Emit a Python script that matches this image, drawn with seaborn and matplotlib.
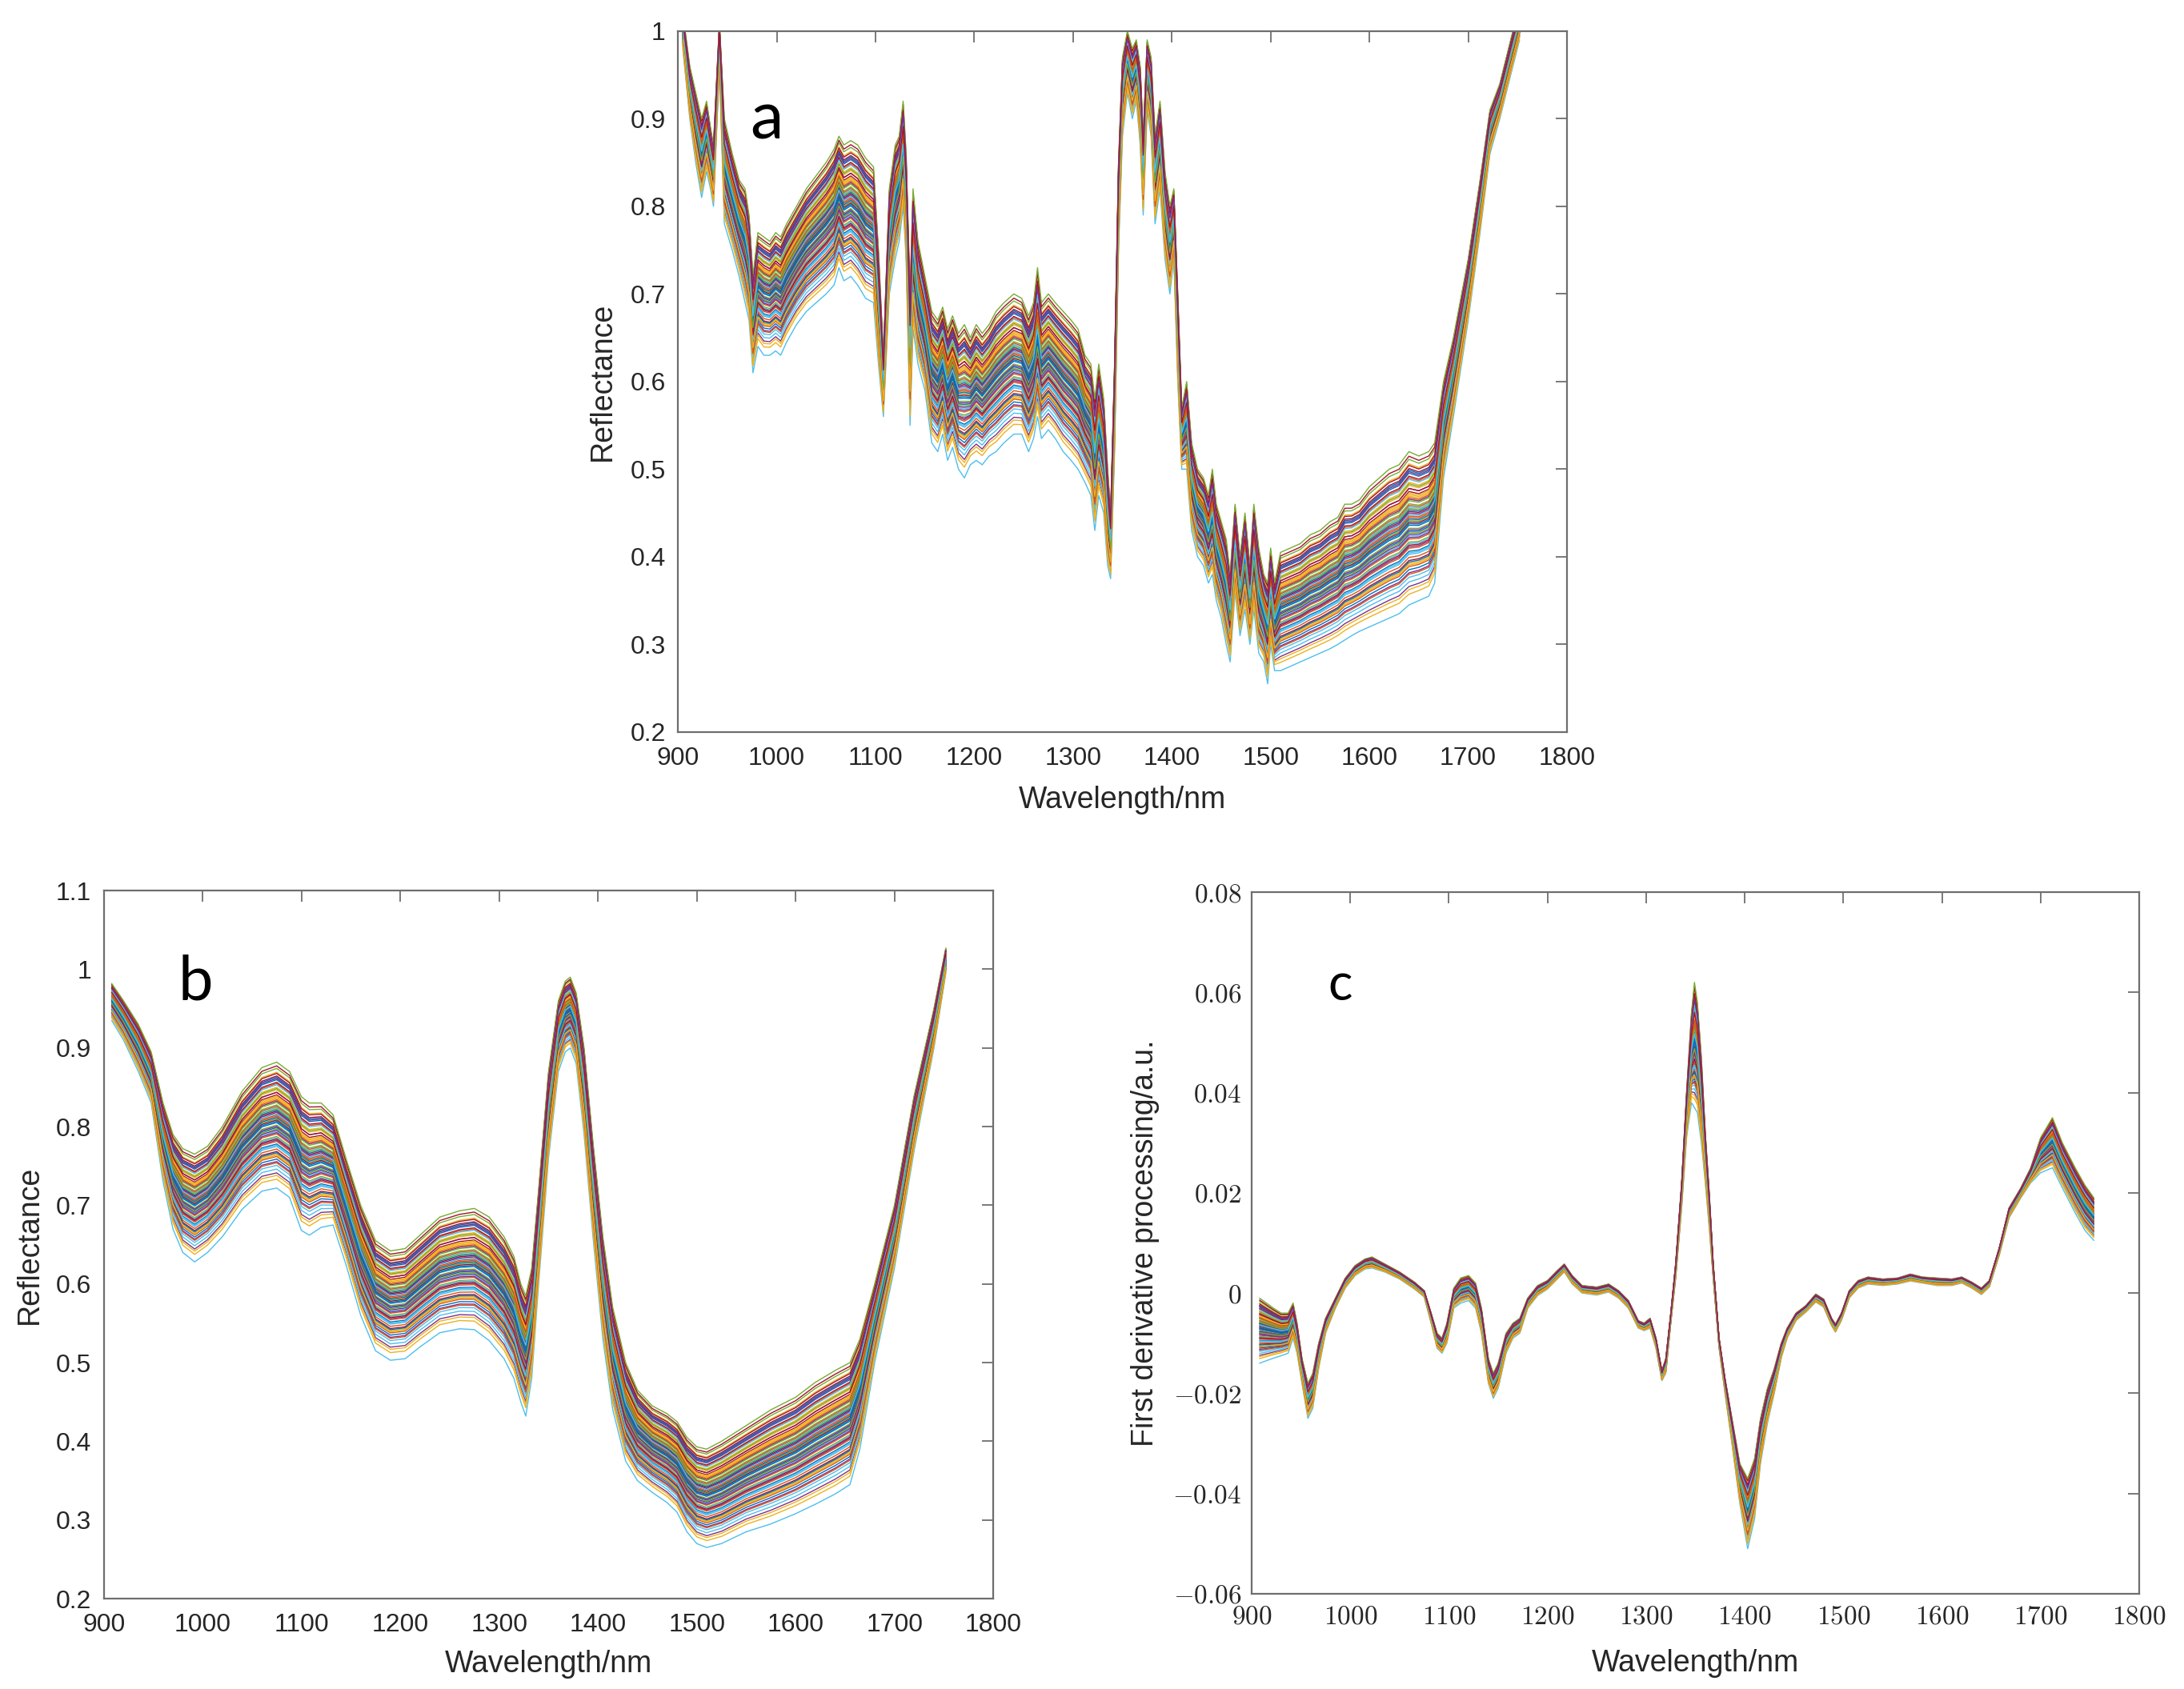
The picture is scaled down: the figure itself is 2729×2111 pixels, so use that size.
import numpy as np
import pandas as pd
import seaborn as sns
import matplotlib
matplotlib.use('Agg')
from matplotlib import pyplot as plt

# MATLAB default line colours, cycled over the samples
matlab_colors = ['#0072BD', '#D95319', '#EDB120', '#7E2F8E', '#77AC30', '#4DBEEE', '#A2142F']

# relative position of each sample inside the bundle (0 = lowest line, 1 = highest)
sample_pos = [0.52, 0.31, 0.78, 0.12, 0.66, 0.45, 0.89, 0.23, 0.57, 0.71,
              0.38, 0.95, 0.18, 0.61, 0.48, 0.83, 0.27, 0.69, 0.41, 0.00,
              0.74, 0.35, 0.58, 0.92, 0.21, 0.50, 0.64, 0.29, 0.86, 0.43,
              0.07, 0.76, 0.55, 0.33, 0.97, 0.62, 0.25, 0.80, 0.46, 0.68,
              0.15, 0.54, 0.88, 0.37, 0.72, 0.60, 1.00, 0.40, 0.84, 0.28,
              0.65, 0.10, 0.49, 0.79, 0.34, 0.91, 0.56, 0.20, 0.73, 0.44,
              0.63, 0.82, 0.39, 0.53, 0.70, 0.26, 0.87, 0.47, 0.59, 0.76]

# (a) raw spectra: wavelength, upper and lower edge of the bundle
wl_a = [905, 912, 918, 924, 929, 933, 936, 942, 947, 955,
        962, 968, 972, 976, 981, 987, 993, 999, 1004, 1010,
        1020, 1030, 1040, 1050, 1058, 1063, 1068, 1075, 1082, 1090,
        1098, 1103, 1108, 1114, 1120, 1124, 1128, 1131, 1135, 1138,
        1143, 1150, 1157, 1163, 1168, 1173, 1178, 1184, 1190, 1196,
        1202, 1208, 1215, 1222, 1230, 1240, 1248, 1255, 1260, 1264,
        1268, 1275, 1282, 1290, 1298, 1305, 1312, 1318, 1322, 1326,
        1331, 1335, 1338, 1342, 1346, 1350, 1355, 1360, 1364, 1368,
        1371, 1375, 1379, 1383, 1388, 1393, 1398, 1402, 1406, 1410,
        1415, 1420, 1426, 1432, 1437, 1441, 1445, 1450, 1455, 1459,
        1464, 1469, 1474, 1479, 1483, 1488, 1493, 1497, 1500, 1504,
        1510, 1520, 1530, 1540, 1550, 1560, 1568, 1575, 1582, 1590,
        1600, 1610, 1620, 1630, 1640, 1650, 1660, 1666, 1675, 1685,
        1700, 1712, 1722, 1732, 1743, 1752]
top_a = [1.02, 0.96, 0.93, 0.90, 0.92, 0.89, 0.87, 1.01, 0.90, 0.86,
         0.83, 0.82, 0.79, 0.72, 0.77, 0.765, 0.76, 0.77, 0.765, 0.78,
         0.80, 0.82, 0.835, 0.85, 0.865, 0.88, 0.87, 0.875, 0.87, 0.855,
         0.845, 0.75, 0.63, 0.82, 0.87, 0.88, 0.92, 0.86, 0.70, 0.82,
         0.76, 0.72, 0.68, 0.67, 0.685, 0.66, 0.675, 0.655, 0.665, 0.65,
         0.665, 0.655, 0.665, 0.68, 0.69, 0.70, 0.695, 0.675, 0.69, 0.73,
         0.69, 0.70, 0.69, 0.68, 0.67, 0.66, 0.63, 0.62, 0.58, 0.62,
         0.58, 0.50, 0.45, 0.62, 0.85, 0.97, 1.00, 0.98, 0.99, 0.96,
         0.88, 0.99, 0.97, 0.88, 0.92, 0.84, 0.80, 0.82, 0.70, 0.57,
         0.60, 0.53, 0.50, 0.49, 0.47, 0.50, 0.46, 0.44, 0.42, 0.38,
         0.46, 0.40, 0.45, 0.39, 0.46, 0.41, 0.38, 0.37, 0.41, 0.37,
         0.405, 0.41, 0.415, 0.425, 0.43, 0.44, 0.445, 0.46, 0.46, 0.465,
         0.48, 0.49, 0.50, 0.505, 0.52, 0.515, 0.52, 0.53, 0.60, 0.65,
         0.74, 0.83, 0.91, 0.94, 0.99, 1.03]
bot_a = [0.98, 0.90, 0.85, 0.81, 0.84, 0.82, 0.80, 0.96, 0.78, 0.75,
         0.72, 0.69, 0.67, 0.61, 0.64, 0.63, 0.63, 0.635, 0.63, 0.645,
         0.665, 0.68, 0.69, 0.70, 0.71, 0.73, 0.715, 0.72, 0.71, 0.695,
         0.69, 0.62, 0.56, 0.70, 0.74, 0.76, 0.80, 0.74, 0.55, 0.66,
         0.62, 0.59, 0.53, 0.52, 0.54, 0.51, 0.525, 0.50, 0.49, 0.505,
         0.51, 0.505, 0.515, 0.52, 0.53, 0.54, 0.54, 0.52, 0.535, 0.56,
         0.535, 0.545, 0.535, 0.52, 0.51, 0.50, 0.485, 0.47, 0.43, 0.47,
         0.45, 0.39, 0.375, 0.52, 0.75, 0.88, 0.93, 0.90, 0.92, 0.87,
         0.79, 0.91, 0.88, 0.78, 0.82, 0.74, 0.70, 0.74, 0.60, 0.50,
         0.50, 0.43, 0.40, 0.39, 0.37, 0.38, 0.35, 0.33, 0.30, 0.28,
         0.36, 0.31, 0.34, 0.30, 0.34, 0.29, 0.28, 0.255, 0.30, 0.27,
         0.27, 0.275, 0.28, 0.285, 0.29, 0.295, 0.30, 0.305, 0.31, 0.315,
         0.32, 0.325, 0.33, 0.335, 0.345, 0.35, 0.355, 0.37, 0.49, 0.56,
         0.67, 0.77, 0.86, 0.90, 0.95, 0.99]

# (b) smoothed spectra
wl_b = [908, 920, 935, 948, 960, 970, 980, 992, 1005, 1020,
        1040, 1060, 1075, 1088, 1100, 1108, 1120, 1132, 1145, 1160,
        1175, 1190, 1205, 1220, 1240, 1260, 1275, 1290, 1305, 1315,
        1322, 1327, 1333, 1340, 1350, 1360, 1367, 1372, 1378, 1386,
        1395, 1405, 1415, 1428, 1440, 1455, 1470, 1480, 1490, 1500,
        1510, 1525, 1550, 1575, 1600, 1620, 1640, 1655, 1665, 1680,
        1700, 1720, 1740, 1752]
top_b = [0.982, 0.96, 0.93, 0.895, 0.83, 0.79, 0.772, 0.765, 0.775, 0.80,
         0.845, 0.875, 0.882, 0.87, 0.838, 0.83, 0.83, 0.815, 0.76, 0.70,
         0.655, 0.642, 0.645, 0.662, 0.685, 0.693, 0.696, 0.685, 0.66, 0.635,
         0.60, 0.585, 0.62, 0.72, 0.87, 0.96, 0.985, 0.99, 0.97, 0.90,
         0.78, 0.66, 0.57, 0.50, 0.465, 0.445, 0.435, 0.425, 0.405, 0.393,
         0.39, 0.40, 0.42, 0.44, 0.456, 0.475, 0.49, 0.50, 0.53, 0.60,
         0.70, 0.84, 0.95, 1.027]
bot_b = [0.935, 0.91, 0.87, 0.83, 0.73, 0.67, 0.64, 0.628, 0.64, 0.66,
         0.695, 0.718, 0.722, 0.71, 0.668, 0.662, 0.672, 0.675, 0.625, 0.56,
         0.515, 0.503, 0.505, 0.52, 0.538, 0.543, 0.542, 0.528, 0.505, 0.48,
         0.45, 0.432, 0.48, 0.60, 0.76, 0.87, 0.895, 0.90, 0.88, 0.79,
         0.66, 0.53, 0.44, 0.375, 0.35, 0.335, 0.322, 0.31, 0.285, 0.27,
         0.265, 0.27, 0.285, 0.295, 0.308, 0.32, 0.333, 0.345, 0.39, 0.50,
         0.62, 0.77, 0.90, 0.995]

# (c) first derivative
wl_c = [908, 915, 922, 930, 937, 942, 946, 951, 957, 962,
        968, 975, 985, 995, 1005, 1015, 1022, 1035, 1050, 1065,
        1075, 1082, 1088, 1093, 1098, 1105, 1112, 1120, 1127, 1133,
        1140, 1145, 1150, 1158, 1165, 1172, 1180, 1190, 1200, 1210,
        1217, 1225, 1235, 1250, 1262, 1272, 1282, 1292, 1298, 1304,
        1310, 1316, 1320, 1325, 1330, 1336, 1341, 1346, 1349, 1352,
        1356, 1360, 1364, 1368, 1374, 1380, 1387, 1395, 1403, 1410,
        1416, 1423, 1430, 1437, 1443, 1452, 1462, 1472, 1480, 1488,
        1492, 1498, 1506, 1515, 1525, 1540, 1555, 1568, 1580, 1595,
        1610, 1620, 1630, 1640, 1648, 1658, 1668, 1680, 1690, 1700,
        1712, 1722, 1735, 1745, 1754]
top_c = [-0.001, -0.002, -0.003, -0.004, -0.004, -0.002, -0.006, -0.013, -0.018, -0.016,
         -0.010, -0.005, -0.001, 0.003, 0.0055, 0.0068, 0.0072, 0.0058, 0.0042, 0.0022,
         0.0005, -0.004, -0.008, -0.009, -0.006, 0.001, 0.003, 0.0035, 0.002, -0.003,
         -0.013, -0.016, -0.014, -0.008, -0.006, -0.005, -0.001, 0.0015, 0.0025, 0.0045,
         0.0058, 0.0035, 0.0015, 0.0012, 0.0018, 0.0005, -0.0015, -0.0055, -0.006, -0.005,
         -0.009, -0.0155, -0.013, -0.004, 0.006, 0.022, 0.040, 0.056, 0.062, 0.058,
         0.047, 0.032, 0.020, 0.006, -0.009, -0.017, -0.025, -0.034, -0.037, -0.033,
         -0.025, -0.019, -0.015, -0.010, -0.007, -0.004, -0.0025, -0.0002, -0.0012, -0.005,
         -0.0062, -0.004, 0.0005, 0.0025, 0.0032, 0.0028, 0.003, 0.0038, 0.0032, 0.003,
         0.0028, 0.0032, 0.0022, 0.001, 0.0025, 0.009, 0.017, 0.021, 0.025, 0.031,
         0.035, 0.030, 0.025, 0.0215, 0.019]
bot_c = [-0.014, -0.0135, -0.013, -0.0125, -0.012, -0.009, -0.012, -0.018, -0.025, -0.023,
         -0.015, -0.008, -0.003, 0.001, 0.0035, 0.0048, 0.005, 0.0042, 0.0028, 0.0008,
         -0.0008, -0.006, -0.011, -0.012, -0.010, -0.003, -0.002, -0.0015, -0.003, -0.008,
         -0.018, -0.021, -0.019, -0.012, -0.009, -0.008, -0.003, -0.0005, 0.0008, 0.0028,
         0.0042, 0.0018, 0.0, -0.0004, 0.0002, -0.001, -0.003, -0.007, -0.0075, -0.007,
         -0.011, -0.0175, -0.016, -0.006, 0.003, 0.017, 0.031, 0.038, 0.037, 0.036,
         0.030, 0.022, 0.013, 0.003, -0.011, -0.020, -0.030, -0.042, -0.051, -0.045,
         -0.034, -0.026, -0.020, -0.013, -0.009, -0.0055, -0.0038, -0.0018, -0.0028, -0.0065,
         -0.0078, -0.0055, -0.001, 0.001, 0.0018, 0.0015, 0.0018, 0.0024, 0.002, 0.0015,
         0.0015, 0.002, 0.001, -0.0003, 0.0012, 0.0075, 0.015, 0.019, 0.022, 0.024,
         0.025, 0.021, 0.016, 0.0125, 0.0105]

x_ticks = [900, 1000, 1100, 1200, 1300, 1400, 1500, 1600, 1700, 1800]
y_ticks_a = [0.2, 0.3, 0.4, 0.5, 0.6, 0.7, 0.8, 0.9, 1.0]
y_labels_a = ['0.2', '0.3', '0.4', '0.5', '0.6', '0.7', '0.8', '0.9', '1']
y_ticks_b = [0.2, 0.3, 0.4, 0.5, 0.6, 0.7, 0.8, 0.9, 1.0, 1.1]
y_labels_b = ['0.2', '0.3', '0.4', '0.5', '0.6', '0.7', '0.8', '0.9', '1', '1.1']
y_ticks_c = [-0.06, -0.04, -0.02, 0, 0.02, 0.04, 0.06, 0.08]
y_labels_c = ['$-0.06$', '$-0.04$', '$-0.02$', '$0$', '$0.02$', '$0.04$', '$0.06$', '$0.08$']


def spectra_frame(wl, top, bot, pos):
    top = np.array(top)
    bot = np.array(bot)
    frames = []
    for i, p in enumerate(pos):
        frames.append(pd.DataFrame({'wavelength': wl,
                                    'value': bot + p * (top - bot),
                                    'sample': 's%02d' % i}))
    return pd.concat(frames, ignore_index=True)


sns.set_style('white')
plt.rcParams['font.family'] = ['Liberation Sans', 'DejaVu Sans']
plt.rcParams['mathtext.fontset'] = 'cm'

spine_col = '#6e6e6e'
text_col = '#262626'
palette = [matlab_colors[i % 7] for i in range(len(sample_pos))]

fig = plt.figure(figsize=(27.29, 21.11), dpi=100)
ax_a = fig.add_axes([0.3104, 0.5666, 0.4071, 0.4150])
ax_b = fig.add_axes([0.0475, 0.0535, 0.4073, 0.4192])
ax_c = fig.add_axes([0.5731, 0.0564, 0.4064, 0.4154])

panels = [(ax_a, wl_a, top_a, bot_a), (ax_b, wl_b, top_b, bot_b), (ax_c, wl_c, top_c, bot_c)]
for ax, wl, top, bot in panels:
    df = spectra_frame(wl, top, bot, sample_pos)
    sns.lineplot(data=df, x='wavelength', y='value', hue='sample', palette=palette,
                 legend=False, linewidth=1.0, estimator=None, sort=False, ax=ax)
    for s in ax.spines.values():
        s.set_visible(True)
        s.set_color(spine_col)
        s.set_linewidth(1.6)
    ax.tick_params(direction='in', top=True, right=True, length=10, width=1.3,
                   color=spine_col, labelcolor=text_col, labelsize=23)
    ax.set_xlim(900, 1800)
    ax.set_xticks(x_ticks)

# panel a
ax_a.set_ylim(0.2, 1.0)
ax_a.set_yticks(y_ticks_a)
ax_a.set_yticklabels(y_labels_a)
ax_a.tick_params(axis='x', pad=13)
ax_a.tick_params(axis='y', pad=11)

# panel b
ax_b.set_ylim(0.2, 1.1)
ax_b.set_yticks(y_ticks_b)
ax_b.set_yticklabels(y_labels_b)
ax_b.tick_params(axis='x', pad=13)
ax_b.tick_params(axis='y', pad=11)

# panel c, LaTeX-like tick labels
ax_c.set_ylim(-0.06, 0.08)
ax_c.set_yticks(y_ticks_c)
ax_c.set_yticklabels(y_labels_c)
ax_c.set_xticklabels(['$%d$' % t for t in x_ticks])
ax_c.tick_params(axis='both', labelsize=24)
ax_c.tick_params(axis='x', pad=10)
ax_c.tick_params(axis='y', pad=9)

for ax, ylab, ylx, xly in [(ax_a, 'Reflectance', -0.0846, -0.097),
                           (ax_b, 'Reflectance', -0.0832, -0.093),
                           (ax_c, 'First derivative processing/a.u.', -0.12, -0.099)]:
    ax.set_xlabel('Wavelength/nm', fontsize=27, color=text_col)
    ax.set_ylabel(ylab, fontsize=27, color=text_col)
    ax.xaxis.label.set_va('center')
    ax.yaxis.label.set_va('center')
    ax.xaxis.set_label_coords(0.5, xly)
    ax.yaxis.set_label_coords(ylx, 0.5)

ax_a.text(990, 0.877, 'a', fontsize=60, family='Lato', ha='center', va='baseline', color='black')
ax_b.text(993, 0.961, 'b', fontsize=56, family='Lato', ha='center', va='baseline', color='black')
ax_c.text(990, 0.0585, 'c', fontsize=46, family='Lato', ha='center', va='baseline', color='black')

fig.savefig('out.png', dpi=100, facecolor='white')
